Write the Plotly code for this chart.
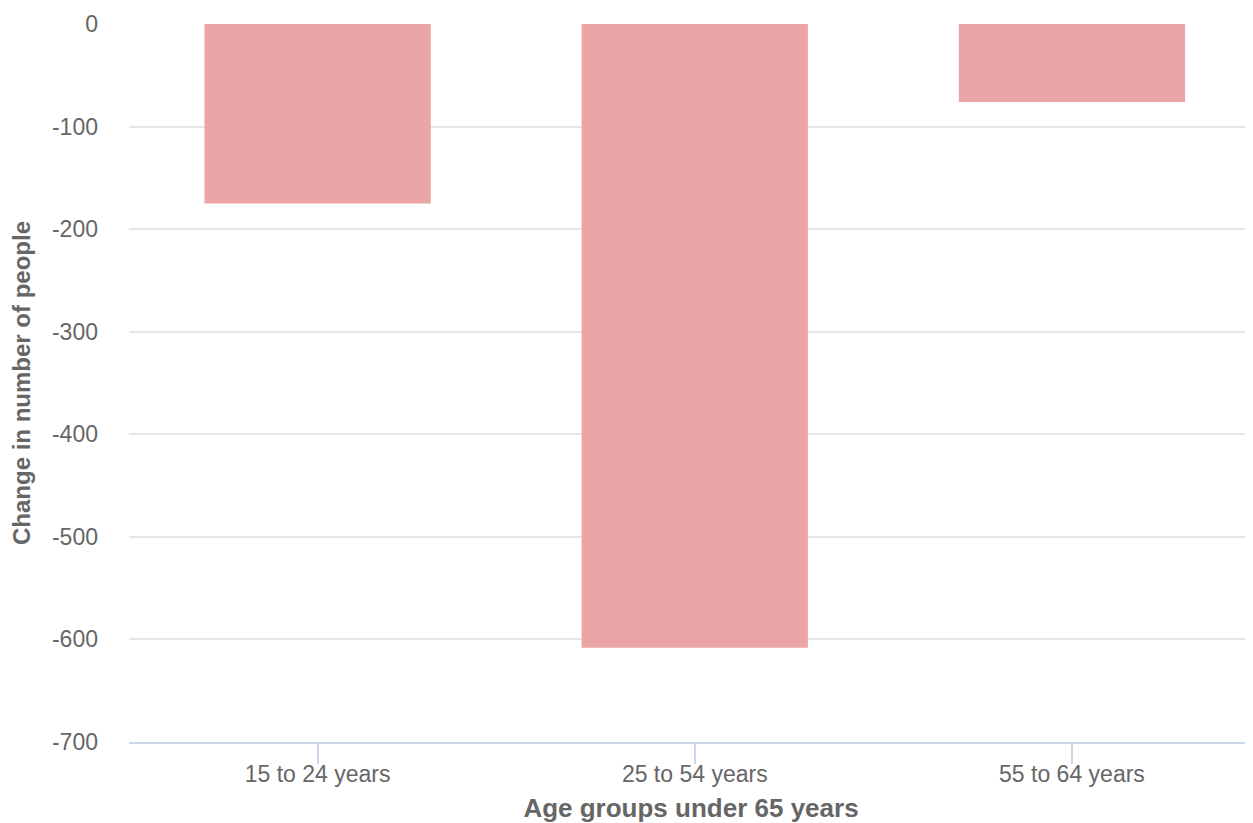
import plotly.graph_objects as go

categories = ["15 to 24 years", "25 to 54 years", "55 to 64 years"]
values = [-175, -608, -76]
y_ticks = [0, -100, -200, -300, -400, -500, -600, -700]

FONT = "Liberation Sans, Arial, Helvetica, sans-serif"
GRAY = "#666666"

fig = go.Figure(
    go.Bar(
        x=categories,
        y=values,
        marker=dict(color="#EBA5A6", line=dict(width=0)),
        width=0.6,
        hoverinfo="x+y",
    )
)

# page body has an 8px margin, so the figure is offset by (8, 8)
fig.update_layout(
    width=1245,
    height=815,
    margin=dict(l=121, r=0, t=16, b=81),
    paper_bgcolor="white",
    plot_bgcolor="white",
    showlegend=False,
    font=dict(family=FONT, color=GRAY, size=23),
)

fig.update_xaxes(
    range=[-0.5, 2.48],
    automargin=False,
    showgrid=False,
    showline=True,
    linecolor="#ccd6eb",
    linewidth=2,
    ticks="outside",
    ticklen=20,
    tickwidth=2,
    tickcolor="#ccd6eb",
    ticklabelstandoff=-10,
    tickfont=dict(size=23, color=GRAY, family=FONT),
    title=dict(
        text="<b>Age groups under 65 years</b>",
        font=dict(size=26, color=GRAY, family=FONT),
        standoff=19,
    ),
)

fig.update_yaxes(
    range=[-700, 0],
    tickvals=y_ticks,
    ticktext=[str(v) for v in y_ticks],
    showgrid=True,
    gridcolor="#e6e6e6",
    gridwidth=2,
    zeroline=False,
    showline=False,
    ticks="",
    ticklabelstandoff=30,
    tickfont=dict(size=23, color=GRAY, family=FONT),
    title=dict(
        text="<b>Change in number of people</b>",
        font=dict(size=24, color=GRAY, family=FONT),
        standoff=16,
    ),
)

fig.write_html("out.html")
